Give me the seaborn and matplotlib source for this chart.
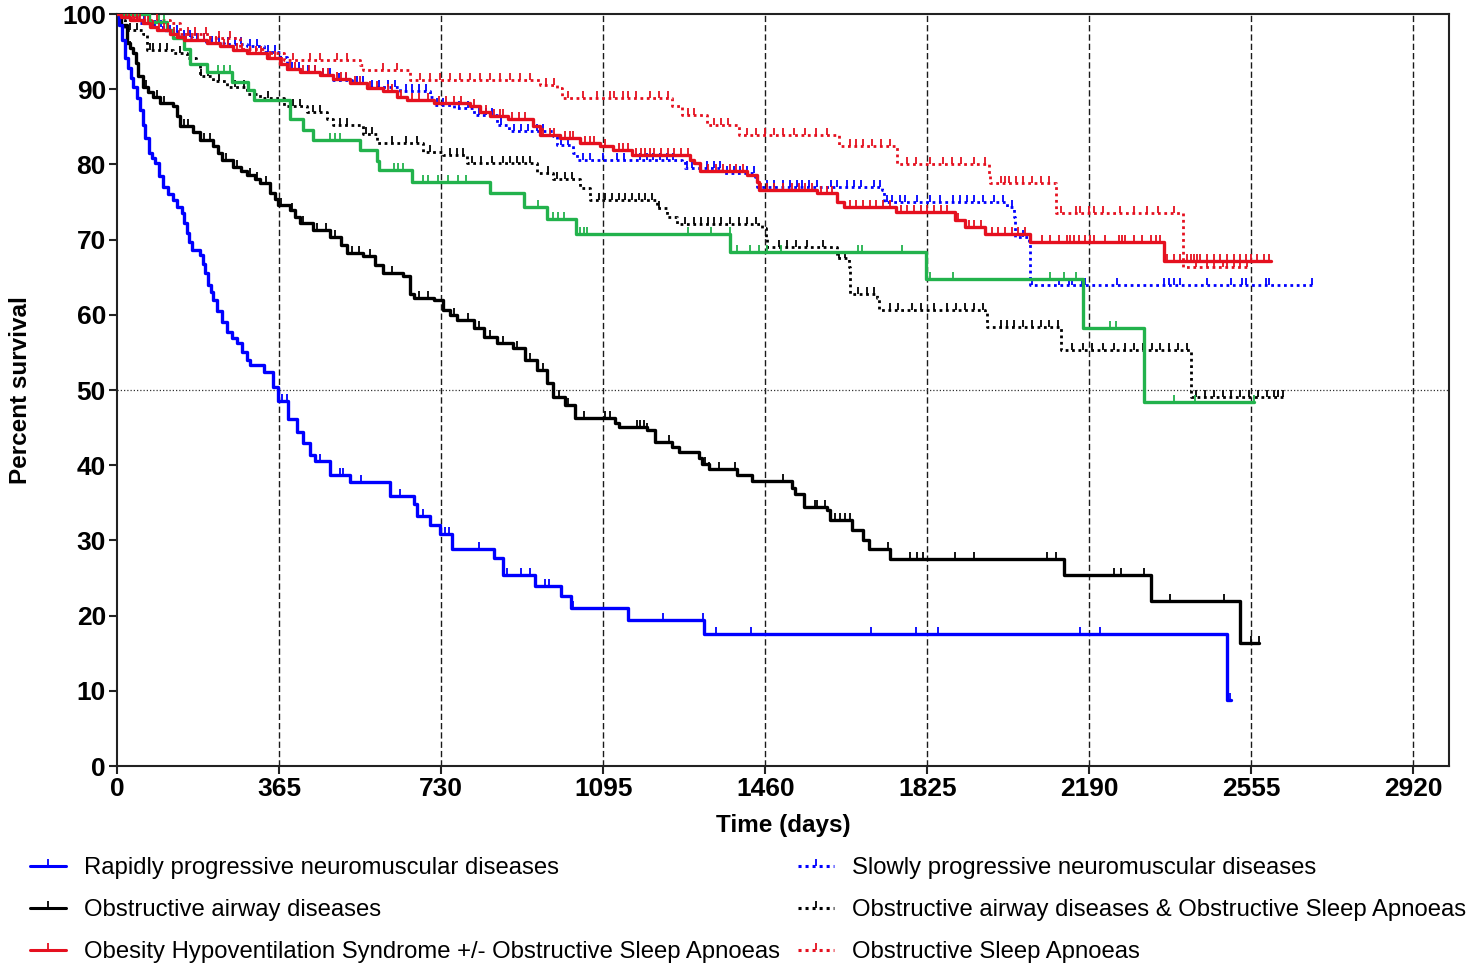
import numpy as np
import pandas as pd
import matplotlib
matplotlib.use("Agg")
import matplotlib.pyplot as plt
from matplotlib.path import Path
from matplotlib.lines import Line2D
import seaborn as sns

# ---------------------------------------------------------------------------
# Kaplan-Meier data: event days, survival (%) after each event,
# last follow-up day and censored days for every group
# ---------------------------------------------------------------------------
rapid_days = [5, 12, 18, 25, 31, 37, 44, 52, 58, 64, 71, 78, 86, 95, 104, 115, 127, 136,
              146, 152, 157, 163, 168, 187, 193, 198, 205, 211, 217, 226, 236, 247, 258,
              270, 281, 292, 300, 330, 352, 363, 386, 405, 420, 435, 446, 480, 525, 614,
              668, 675, 705, 728, 754, 848, 870, 942, 1000, 1022, 1151, 1321, 2499]
rapid_surv = [98.5, 96.5, 94.1, 92.8, 91.5, 90.3, 88.8, 87.2, 85.3, 83.5, 81.5, 80.8, 80.2,
              78.5, 77.0, 76.1, 75.3, 74.4, 73.5, 72.2, 70.9, 69.7, 68.6, 68.0, 66.8, 65.6,
              64.0, 63.0, 62.0, 60.5, 59.1, 57.7, 56.9, 56.2, 55.0, 54.0, 53.3, 52.4, 50.4,
              48.6, 46.1, 44.4, 42.9, 41.4, 40.5, 38.7, 37.8, 35.9, 34.9, 33.2, 32.0, 30.9,
              28.8, 27.6, 25.4, 24.0, 22.6, 21.0, 19.4, 17.5, 8.8]
rapid_end = 2508
rapid_cens = [371, 384, 457, 502, 508, 549, 638, 689, 739, 747, 816, 878, 909, 930, 964,
              974, 1027, 1229, 1319, 1350, 1428, 1698, 1799, 1849, 2168, 2213, 2506]

oad_days = [10, 22, 30, 37, 42, 48, 59, 70, 82, 97, 127, 135, 142, 172, 187, 217, 228, 236,
            262, 280, 292, 310, 322, 345, 355, 363, 390, 400, 412, 442, 480, 505, 517, 555,
            580, 600, 645, 660, 668, 713, 735, 750, 765, 803, 826, 856, 893, 919, 946, 968,
            983, 1009, 1032, 1122, 1130, 1193, 1212, 1250, 1265, 1310, 1317, 1333, 1396,
            1430, 1520, 1528, 1547, 1599, 1606, 1655, 1681, 1693, 1742, 2132, 2328, 2529]
oad_surv = [98.5, 96.1, 95.5, 94.8, 93.5, 91.7, 90.3, 89.6, 89.0, 88.1, 87.7, 86.5, 85.1,
            84.3, 83.2, 82.4, 81.5, 80.6, 79.7, 79.1, 78.6, 78.0, 77.5, 76.2, 75.4, 74.6,
            73.9, 73.0, 72.2, 71.3, 70.4, 69.3, 68.2, 67.8, 66.6, 65.5, 65.1, 62.8, 62.2,
            62.0, 60.6, 60.0, 59.3, 58.2, 57.1, 56.2, 55.6, 54.0, 52.7, 50.9, 49.1, 48.0,
            46.3, 45.6, 45.1, 44.7, 43.1, 42.4, 41.7, 40.9, 40.2, 39.5, 38.7, 37.9, 37.0,
            36.2, 34.5, 34.0, 32.7, 31.4, 30.1, 28.9, 27.5, 25.4, 21.9, 16.3]
oad_end = 2572
oad_cens = [30, 45, 65, 90, 105, 150, 160, 195, 210, 245, 270, 300, 315, 335, 370, 395, 420,
            450, 470, 490, 530, 545, 570, 620, 680, 700, 760, 790, 815, 840, 870, 900, 930,
            960, 995, 1015, 1051, 1099, 1111, 1171, 1178, 1186, 1193, 1244, 1310, 1325, 1333,
            1355, 1392, 1500, 1571, 1576, 1595, 1618, 1629, 1640, 1650, 1736, 1787, 1802,
            1815, 1888, 1931, 2095, 2115, 2246, 2261, 2312, 2371, 2494, 2553, 2572]

ohs_days = [10, 30, 59, 75, 89, 119, 135, 150, 202, 232, 262, 292, 337, 367, 383, 412, 457,
            487, 525, 563, 600, 630, 653, 713, 795, 818, 840, 880, 938, 953, 998, 1043, 1088,
            1118, 1160, 1291, 1299, 1314, 1419, 1442, 1445, 1576, 1621, 1638, 1754, 1888,
            1911, 1956, 2057, 2358]
ohs_surv = [99.6, 99.2, 98.8, 98.3, 97.9, 97.4, 97.0, 96.5, 96.1, 95.7, 95.2, 94.8, 94.1,
            93.4, 92.7, 92.3, 91.9, 91.4, 90.8, 90.1, 89.7, 89.0, 88.6, 88.1, 87.7, 87.0,
            86.4, 86.0, 85.1, 83.9, 83.5, 82.8, 82.4, 81.9, 81.3, 80.6, 80.2, 79.1, 78.6,
            77.7, 76.6, 76.2, 75.0, 74.4, 73.7, 72.6, 71.7, 70.8, 69.7, 67.1]
ohs_end = 2598
ohs_cens = [12, 20, 28, 36, 45, 52, 62, 70, 80, 95, 105, 115, 128, 140, 155, 170, 182, 195,
            210, 222, 240, 250, 270, 282, 300, 312, 325, 345, 355, 372, 390, 400, 420, 432,
            445, 465, 475, 495, 505, 515, 535, 548, 570, 585, 610, 620, 640, 665, 680, 700,
            725, 740, 760, 775, 805, 830, 850, 862, 870, 890, 905, 920, 960, 975, 985, 1010,
            1020, 1028, 1055, 1065, 1075, 1100, 1130, 1140, 1150, 1170, 1180, 1190, 1200,
            1210, 1225, 1240, 1255, 1270, 1285, 1330, 1350, 1365, 1380, 1395, 1410, 1450,
            1465, 1480, 1500, 1520, 1535, 1550, 1565, 1585, 1600, 1610, 1650, 1665, 1680,
            1695, 1710, 1725, 1740, 1765, 1780, 1795, 1810, 1825, 1840, 1855, 1870, 1895,
            1920, 1930, 1945, 1970, 1985, 2000, 2015, 2030, 2045, 2083, 2102, 2121, 2140,
            2147, 2155, 2166, 2181, 2192, 2200, 2226, 2256, 2264, 2271, 2290, 2309, 2328,
            2339, 2350, 2365, 2380, 2395, 2410, 2418, 2425, 2433, 2440, 2455, 2470, 2485,
            2500, 2515, 2530, 2542, 2553, 2568, 2583, 2594]

slow_days = [8, 25, 50, 80, 110, 140, 170, 200, 240, 292, 330, 367, 383, 420, 457, 487, 530,
             563, 637, 705, 713, 758, 803, 856, 882, 983, 991, 1028, 1036, 1272, 1280, 1362,
             1436, 1442, 1723, 1727, 2005, 2020, 2023, 2053, 2057]
slow_surv = [99.6, 99.2, 98.8, 98.3, 97.6, 97.0, 96.5, 96.1, 96.0, 95.7, 95.0, 94.3, 92.7,
             92.3, 91.9, 91.2, 90.8, 90.3, 89.8, 89.0, 87.9, 87.5, 86.6, 85.3, 84.4, 83.8,
             82.6, 81.5, 80.6, 80.4, 79.5, 78.9, 78.3, 77.0, 76.6, 75.0, 74.4, 73.0, 70.4,
             69.5, 64.0]
slow_end = 2696
slow_cens = [15, 30, 45, 60, 85, 100, 120, 135, 150, 165, 180, 195, 215, 230, 250, 265, 280,
             300, 315, 340, 355, 395, 410, 430, 445, 465, 480, 500, 515, 540, 555, 575, 590,
             610, 625, 650, 665, 680, 695, 720, 735, 770, 790, 815, 830, 845, 865, 895, 910,
             925, 945, 960, 1000, 1015, 1050, 1065, 1095, 1126, 1141, 1178, 1193, 1208, 1223,
             1238, 1253, 1284, 1295, 1329, 1344, 1359, 1374, 1389, 1404, 1419, 1434, 1464,
             1479, 1501, 1516, 1531, 1543, 1558, 1577, 1607, 1622, 1644, 1659, 1675, 1704,
             1719, 1734, 1745, 1764, 1775, 1802, 1832, 1854, 1884, 1899, 1914, 1930, 1950,
             1975, 1995, 2015, 2040, 2061, 2121, 2144, 2151, 2174, 2181, 2253, 2358, 2369,
             2380, 2395, 2455, 2508, 2534, 2542, 2587, 2594, 2692]

osa_days = [5, 40, 119, 142, 210, 277, 330, 375, 548, 555, 660, 953, 990, 1002, 1250, 1272,
            1329, 1400, 1626, 1757, 1964, 1967, 2114, 2400]
osa_surv = [99.6, 99.2, 98.8, 97.4, 96.8, 95.4, 94.8, 93.9, 93.2, 92.6, 91.2, 90.6, 90.1,
            88.8, 87.7, 86.6, 85.3, 83.9, 82.4, 80.0, 78.4, 77.5, 73.5, 66.4]
osa_end = 2549
osa_cens = [5, 20, 35, 50, 90, 160, 175, 200, 230, 255, 397, 435, 457, 495, 517, 600, 630,
            683, 705, 728, 750, 773, 795, 818, 840, 862, 885, 908, 930, 967, 985, 1015, 1050,
            1080, 1110, 1120, 1140, 1150, 1170, 1200, 1220, 1240, 1285, 1300, 1345, 1360,
            1375, 1420, 1440, 1460, 1480, 1500, 1525, 1550, 1575, 1600, 1650, 1665, 1680,
            1700, 1720, 1740, 1780, 1800, 1830, 1860, 1880, 1900, 1930, 1955, 1990, 2000,
            2010, 2025, 2040, 2060, 2080, 2100, 2125, 2160, 2170, 2190, 2200, 2220, 2260,
            2290, 2320, 2345, 2380, 2430, 2455, 2470, 2490, 2500, 2515, 2530, 2545]

oadosa_days = [8, 18, 59, 67, 127, 157, 179, 187, 217, 247, 292, 322, 375, 427, 472, 487,
               555, 585, 690, 735, 788, 946, 983, 1043, 1066, 1216, 1239, 1262, 1452, 1461,
               1465, 1621, 1648, 1652, 1712, 1716, 1956, 1960, 2125, 2420]
oadosa_surv = [99.2, 97.9, 97.4, 95.2, 94.8, 94.1, 93.4, 91.7, 91.1, 90.3, 89.4, 88.8, 87.7,
               87.0, 86.1, 85.3, 84.1, 82.8, 81.7, 81.3, 80.2, 78.9, 78.0, 76.8, 75.3, 74.2,
               73.0, 72.1, 71.5, 70.2, 69.0, 67.5, 66.4, 62.8, 62.2, 60.6, 60.4, 58.4, 55.3,
               49.1]
oadosa_end = 2628
oadosa_cens = [30, 45, 74, 82, 97, 112, 142, 190, 205, 230, 265, 285, 340, 397, 412, 442,
               457, 502, 517, 560, 575, 620, 650, 675, 705, 750, 765, 780, 800, 820, 845, 870,
               885, 900, 915, 930, 970, 990, 1010, 1025, 1085, 1100, 1115, 1130, 1145, 1160,
               1175, 1190, 1205, 1220, 1280, 1300, 1315, 1330, 1345, 1360, 1380, 1400, 1420,
               1440, 1490, 1510, 1530, 1555, 1590, 1625, 1640, 1670, 1690, 1705, 1740, 1760,
               1790, 1810, 1840, 1870, 1890, 1910, 1930, 1950, 1990, 2005, 2020, 2040, 2060,
               2080, 2100, 2120, 2150, 2175, 2195, 2220, 2245, 2270, 2290, 2310, 2330, 2350,
               2370, 2390, 2410, 2430, 2450, 2470, 2490, 2510, 2530, 2550, 2570, 2590, 2605,
               2615, 2625]

green_days = [71, 112, 127, 150, 164, 202, 258, 296, 308, 390, 420, 442, 548, 585, 589, 664,
              840, 916, 968, 1034, 1381, 1821, 2176, 2314]
green_surv = [99.0, 97.9, 96.8, 95.4, 93.4, 92.3, 91.0, 89.9, 88.6, 86.1, 84.6, 83.2, 81.9,
              80.4, 79.3, 77.7, 76.2, 74.4, 72.7, 70.7, 68.3, 64.7, 58.2, 48.4]
green_end = 2560
green_cens = [95, 105, 228, 240, 255, 480, 491, 502, 623, 634, 645, 690, 700, 723, 745, 768,
              785, 949, 983, 994, 1006, 1043, 1051, 1058, 1287, 1338, 1380, 1396, 1426, 1445,
              1464, 1495, 1670, 1678, 1768, 1832, 1884, 2102, 2132, 2159, 2237, 2249, 2316,
              2380, 2429, 2560]

labels = [
    "Rapidly progressive neuromuscular diseases",
    "Obstructive airway diseases",
    "Obesity Hypoventilation Syndrome +/- Obstructive Sleep Apnoeas",
    "Slowly progressive neuromuscular diseases",
    "Obstructive airway diseases & Obstructive Sleep Apnoeas",
    "Obstructive Sleep Apnoeas",
]
x_ticks = [0, 365, 730, 1095, 1460, 1825, 2190, 2555, 2920]
y_ticks = [0, 10, 20, 30, 40, 50, 60, 70, 80, 90, 100]

BLUE = "#0000FF"
BLACK = "#000000"
RED = "#E5101F"
GREEN = "#22B24C"
SOLID = "-"
DOTTED = (0, (1.0, 1.3))

# ---------------------------------------------------------------------------
sns.set_style("ticks")
plt.rcParams["font.family"] = ["Liberation Sans", "DejaVu Sans"]
plt.rcParams["text.color"] = "black"
plt.rcParams["axes.labelcolor"] = "black"
plt.rcParams["xtick.color"] = "black"
plt.rcParams["ytick.color"] = "black"

fig = plt.figure(figsize=(14.84, 9.77), dpi=100)
ax = fig.add_axes([117 / 1484, 1 - 766 / 977, 1332 / 1484, 752 / 977])

# censor tick: a short vertical stroke rising from the curve
TICK = Path([(0, 0), (0, 1)], [Path.MOVETO, Path.LINETO])


def km_frame(days, surv, end):
    return pd.DataFrame({"day": [0] + list(days) + [end],
                         "pct": [100.0] + list(surv) + [surv[-1]]})


def surv_at(days, surv, t):
    d = np.asarray([0] + list(days))
    s = np.asarray([100.0] + list(surv))
    idx = np.searchsorted(d, t, side="right") - 1
    return s[idx]


groups = [
    # days, surv, end, censored, colour, style, width, z-order
    (slow_days, slow_surv, slow_end, slow_cens, BLUE, DOTTED, 2.0, 3),
    (oadosa_days, oadosa_surv, oadosa_end, oadosa_cens, BLACK, DOTTED, 2.0, 3),
    (osa_days, osa_surv, osa_end, osa_cens, RED, DOTTED, 2.0, 3),
    (green_days, green_surv, green_end, green_cens, GREEN, SOLID, 2.4, 4),
    (oad_days, oad_surv, oad_end, oad_cens, BLACK, SOLID, 2.4, 5),
    (rapid_days, rapid_surv, rapid_end, rapid_cens, BLUE, SOLID, 2.4, 5),
    (ohs_days, ohs_surv, ohs_end, ohs_cens, RED, SOLID, 2.4, 6),
]

for days, surv, end, cens, col, ls, lw, z in groups:
    df = km_frame(days, surv, end)
    sns.lineplot(data=df, x="day", y="pct", ax=ax, color=col, linewidth=lw,
                 linestyle=ls, drawstyle="steps-post", estimator=None,
                 errorbar=None, sort=False, zorder=z)
    cy = surv_at(days, surv, np.asarray(cens))
    ax.plot(cens, cy, linestyle="none", marker=TICK, markersize=10,
            markeredgewidth=1.3, color=col, zorder=z)

# reference lines: one per year and the median
for xv in x_ticks[1:]:
    ax.axvline(xv, color="#1a1a1a", lw=1.0, linestyle=(0, (4.5, 2.2)), zorder=1)
ax.axhline(50, color="#333333", lw=0.9, linestyle=(0, (1, 1.6)), zorder=1)

ax.set_xlim(0, 3000)
ax.set_ylim(0, 100)
ax.set_xticks(x_ticks)
ax.set_yticks(y_ticks)
ax.set_xticklabels([str(v) for v in x_ticks], fontsize=19, fontweight="bold")
ax.set_yticklabels([str(v) for v in y_ticks], fontsize=19, fontweight="bold")
ax.tick_params(axis="both", direction="out", length=6, width=1.5, color="#222222", pad=2)
for sp in ax.spines.values():
    sp.set_visible(True)
    sp.set_linewidth(1.5)
    sp.set_color("#222222")

ax.set_xlabel("Time (days)", fontsize=17.5, fontweight="bold")
ax.set_ylabel("Percent survival", fontsize=17.5, fontweight="bold")
ax.xaxis.set_label_coords(0.5, -0.064)
ax.yaxis.set_label_coords(-0.0635, 0.5)


def handle(col, ls):
    return Line2D([], [], color=col, linestyle=ls, linewidth=2.2, marker=TICK,
                  markersize=10, markeredgewidth=1.3)


left_h = [handle(BLUE, SOLID), handle(BLACK, SOLID), handle(RED, SOLID)]
right_h = [handle(BLUE, DOTTED), handle(BLACK, DOTTED), handle(RED, DOTTED)]

leg_kw = dict(loc="upper left", frameon=False, fontsize=17.2, borderpad=0,
              borderaxespad=0, handlelength=1.5, handletextpad=0.75,
              labelspacing=0.84, numpoints=1)
fig.legend(left_h, labels[:3], bbox_to_anchor=(30 / 1484, 1 - 857 / 977), **leg_kw)
fig.legend(right_h, labels[3:], bbox_to_anchor=(798 / 1484, 1 - 857 / 977), **leg_kw)

fig.savefig("out.png", dpi=100)
